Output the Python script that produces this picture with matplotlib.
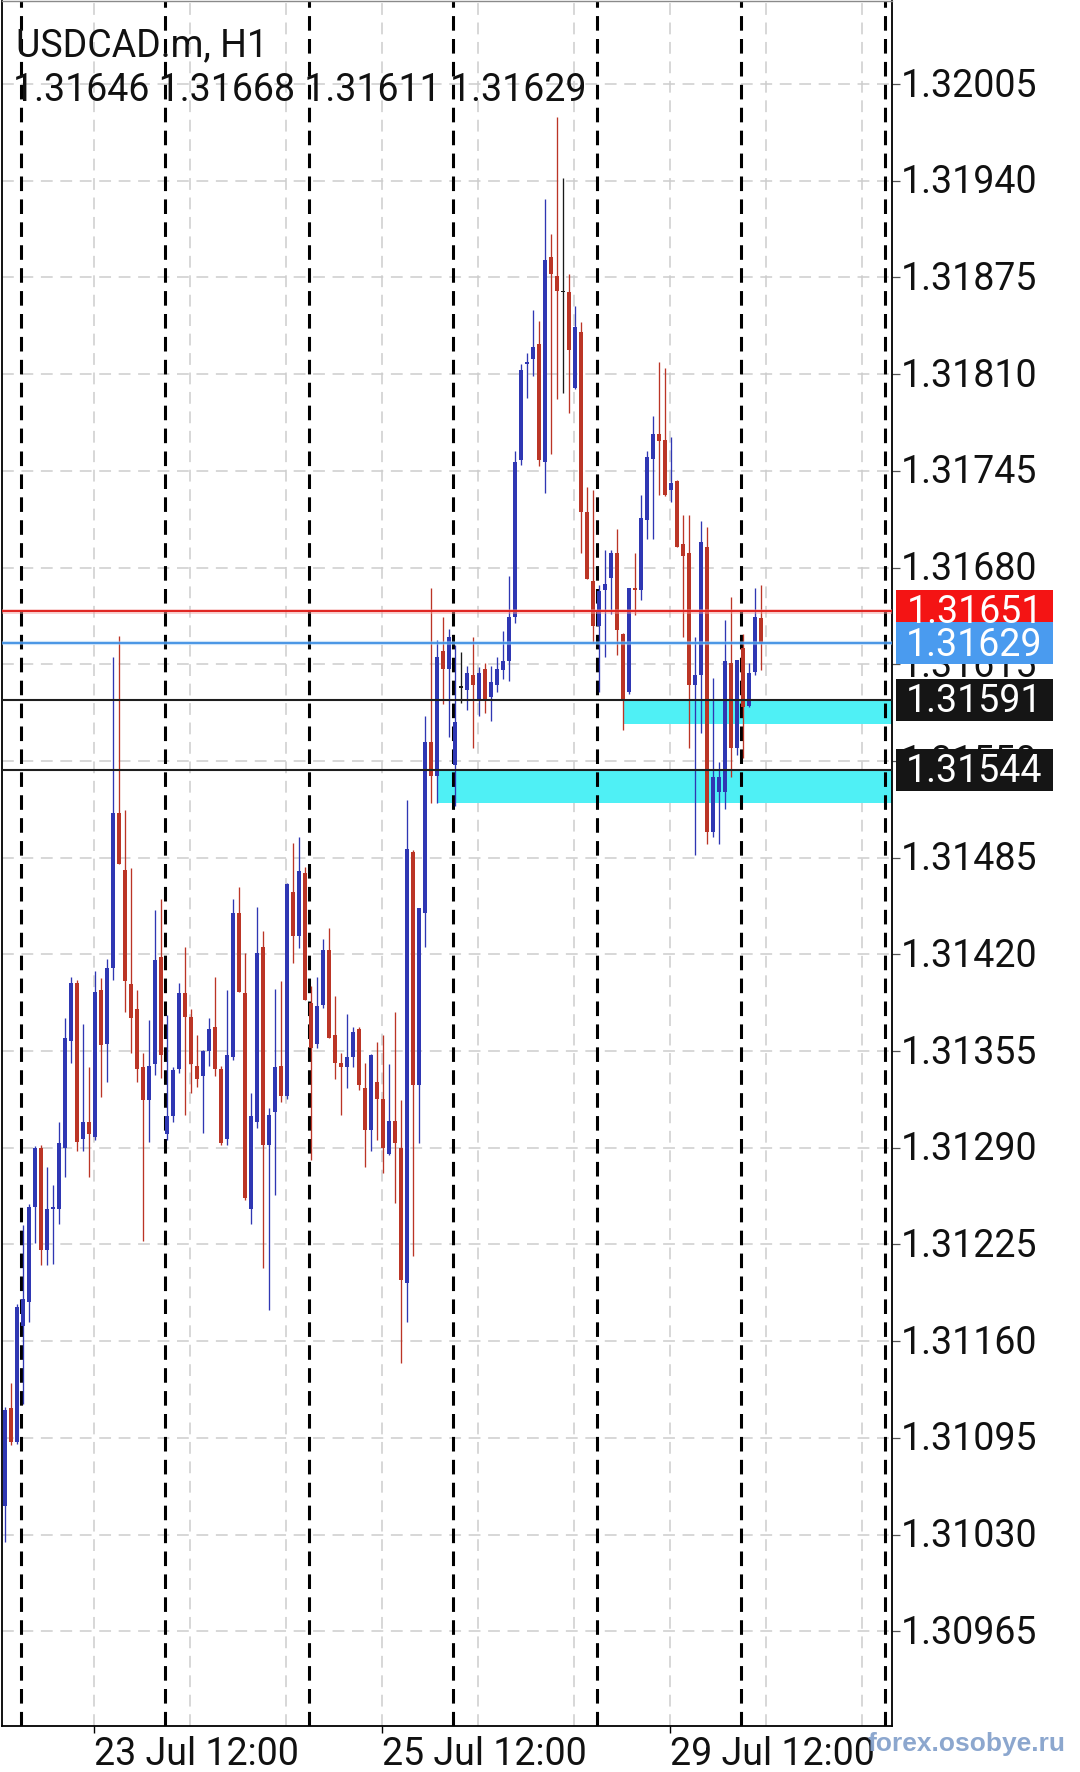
import matplotlib
matplotlib.use("Agg")
import matplotlib.pyplot as plt
from matplotlib.patches import Rectangle
from matplotlib.transforms import blended_transform_factory, ScaledTranslation

plt.rcParams['font.family'] = ['Roboto', 'DejaVu Sans']
plt.rcParams['lines.scale_dashes'] = False

W, H = 1080, 1772

# H1 bars, index 0 = 23 Jul 00:00 (first bar on screen is index -3)
first_bar = -3
opens = [
    1.31049, 1.31115, 1.31092, 1.31170, 1.31186, 1.31250, 1.31290, 1.31221, 1.31249, 1.31249,
    1.31290, 1.31362, 1.31401, 1.31296, 1.31307, 1.31297, 1.31396, 1.31360, 1.31411, 1.31515,
    1.31477, 1.31400, 1.31383, 1.31344, 1.31322, 1.31346, 1.31418, 1.31299, 1.31311, 1.31343,
    1.31394, 1.31378, 1.31345, 1.31338, 1.31355, 1.31371, 1.31343, 1.31296, 1.31351, 1.31448,
    1.31394, 1.31249, 1.31307, 1.31425, 1.31292, 1.31314, 1.31345, 1.31325, 1.31462, 1.31432,
    1.31475, 1.31387, 1.31360, 1.31386, 1.31423, 1.31366, 1.31347, 1.31344, 1.31351, 1.31370,
    1.31330, 1.31302, 1.31334, 1.31323, 1.31286, 1.31308, 1.31290, 1.31199, 1.31489, 1.31332,
    1.31448, 1.31563, 1.31540, 1.31624, 1.31612, 1.31547, 1.31599, 1.31598, 1.31608, 1.31591,
    1.31612, 1.31593, 1.31601, 1.31611, 1.31617, 1.31647, 1.31752, 1.31817, 1.31820, 1.31830,
    1.31751, 1.31889, 1.31876, 1.31865, 1.31865, 1.31801, 1.31838, 1.31717, 1.31671, 1.31641,
    1.31665, 1.31673, 1.31690, 1.31635, 1.31596, 1.31666, 1.31665, 1.31712, 1.31753, 1.31770,
    1.31766, 1.31732, 1.31738, 1.31696, 1.31690, 1.31601, 1.31608, 1.31694, 1.31502, 1.31529,
    1.31529, 1.31616, 1.31559, 1.31626, 1.31587, 1.31610, 1.31646,
]
highs = [
    1.31116, 1.31132, 1.31185, 1.31238, 1.31252, 1.31291, 1.31292, 1.31277, 1.31265, 1.31307,
    1.31377, 1.31405, 1.31403, 1.31373, 1.31344, 1.31409, 1.31404, 1.31417, 1.31620, 1.31634,
    1.31517, 1.31478, 1.31396, 1.31354, 1.31376, 1.31450, 1.31457, 1.31379, 1.31344, 1.31401,
    1.31425, 1.31383, 1.31366, 1.31356, 1.31377, 1.31405, 1.31345, 1.31396, 1.31457, 1.31465,
    1.31421, 1.31327, 1.31452, 1.31436, 1.31317, 1.31397, 1.31402, 1.31468, 1.31495, 1.31499,
    1.31479, 1.31399, 1.31405, 1.31430, 1.31438, 1.31392, 1.31354, 1.31380, 1.31371, 1.31371,
    1.31347, 1.31353, 1.31361, 1.31366, 1.31346, 1.31381, 1.31322, 1.31524, 1.31490, 1.31451,
    1.31580, 1.31666, 1.31631, 1.31647, 1.31639, 1.31628, 1.31623, 1.31614, 1.31633, 1.31613,
    1.31616, 1.31614, 1.31620, 1.31637, 1.31674, 1.31758, 1.31817, 1.31824, 1.31853, 1.31846,
    1.31928, 1.31904, 1.31983, 1.31942, 1.31877, 1.31856, 1.31845, 1.31734, 1.31732, 1.31668,
    1.31692, 1.31692, 1.31706, 1.31636, 1.31666, 1.31690, 1.31729, 1.31758, 1.31782, 1.31818,
    1.31814, 1.31768, 1.31739, 1.31715, 1.31715, 1.31633, 1.31711, 1.31707, 1.31606, 1.31549,
    1.31645, 1.31660, 1.31618, 1.31635, 1.31616, 1.31666, 1.31668,
]
lows = [
    1.31025, 1.31090, 1.31091, 1.31118, 1.31173, 1.31226, 1.31211, 1.31211, 1.31212, 1.31239,
    1.31270, 1.31347, 1.31288, 1.31288, 1.31270, 1.31295, 1.31324, 1.31334, 1.31403, 1.31481,
    1.31381, 1.31354, 1.31334, 1.31227, 1.31294, 1.31339, 1.31337, 1.31295, 1.31307, 1.31340,
    1.31312, 1.31327, 1.31331, 1.31300, 1.31345, 1.31338, 1.31292, 1.31292, 1.31349, 1.31395,
    1.31255, 1.31239, 1.31303, 1.31209, 1.31181, 1.31258, 1.31321, 1.31323, 1.31414, 1.31424,
    1.31389, 1.31282, 1.31357, 1.31384, 1.31364, 1.31336, 1.31312, 1.31330, 1.31344, 1.31329,
    1.31277, 1.31288, 1.31295, 1.31273, 1.31285, 1.31253, 1.31145, 1.31173, 1.31217, 1.31293,
    1.31425, 1.31522, 1.31522, 1.31588, 1.31566, 1.31520, 1.31589, 1.31584, 1.31559, 1.31580,
    1.31582, 1.31577, 1.31596, 1.31605, 1.31604, 1.31643, 1.31749, 1.31794, 1.31809, 1.31748,
    1.31730, 1.31756, 1.31793, 1.31797, 1.31784, 1.31800, 1.31690, 1.31672, 1.31629, 1.31596,
    1.31620, 1.31649, 1.31621, 1.31571, 1.31595, 1.31648, 1.31658, 1.31699, 1.31699, 1.31729,
    1.31728, 1.31724, 1.31694, 1.31633, 1.31559, 1.31487, 1.31569, 1.31494, 1.31499, 1.31494,
    1.31518, 1.31539, 1.31554, 1.31552, 1.31586, 1.31608, 1.31611,
]
closes = [
    1.31114, 1.31092, 1.31183, 1.31188, 1.31250, 1.31290, 1.31221, 1.31249, 1.31250, 1.31293,
    1.31364, 1.31401, 1.31294, 1.31307, 1.31299, 1.31395, 1.31359, 1.31411, 1.31515, 1.31481,
    1.31402, 1.31377, 1.31343, 1.31322, 1.31345, 1.31416, 1.31352, 1.31311, 1.31342, 1.31394,
    1.31378, 1.31346, 1.31336, 1.31355, 1.31370, 1.31343, 1.31293, 1.31352, 1.31448, 1.31395,
    1.31256, 1.31311, 1.31421, 1.31292, 1.31312, 1.31344, 1.31325, 1.31467, 1.31432, 1.31476,
    1.31389, 1.31357, 1.31385, 1.31423, 1.31364, 1.31347, 1.31344, 1.31351, 1.31368, 1.31332,
    1.31302, 1.31352, 1.31323, 1.31290, 1.31308, 1.31293, 1.31201, 1.31491, 1.31332, 1.31451,
    1.31563, 1.31540, 1.31620, 1.31612, 1.31633, 1.31576, 1.31599, 1.31609, 1.31601, 1.31609,
    1.31591, 1.31603, 1.31612, 1.31617, 1.31647, 1.31751, 1.31813, 1.31818, 1.31828, 1.31752,
    1.31887, 1.31877, 1.31866, 1.31865, 1.31826, 1.31842, 1.31717, 1.31672, 1.31641, 1.31664,
    1.31669, 1.31690, 1.31638, 1.31591, 1.31666, 1.31665, 1.31713, 1.31754, 1.31770, 1.31765,
    1.31729, 1.31737, 1.31694, 1.31688, 1.31601, 1.31608, 1.31697, 1.31502, 1.31539, 1.31539,
    1.31617, 1.31559, 1.31618, 1.31586, 1.31609, 1.31647, 1.31629,
]

price_ticks = [1.30965, 1.31030, 1.31095, 1.31160, 1.31225, 1.31290, 1.31355, 1.31420, 1.31485,
               1.31550, 1.31615, 1.31680, 1.31745, 1.31810, 1.31875, 1.31940, 1.32005]
time_ticks = [12, 60, 108]
time_labels = ["23 Jul 12:00", "25 Jul 12:00", "29 Jul 12:00"]
day_starts = [0, 24, 48, 72, 96, 120, 144]
grid_bars = [12, 28, 44, 60, 76, 92, 108, 124, 140]

ask, bid = 1.31651, 1.31629
levels = [1.31591, 1.31544]
# zones: (start bar, low, high)
zones = [(100, 1.31575, 1.31591), (69, 1.31522, 1.31544)]

BULL, BEAR, DOJI = "#2f37b3", "#bb3526", "#1a1a1a"
CYAN = "#4ff0f5"

fig = plt.figure(figsize=(W / 100, H / 100), dpi=100)
ax = fig.add_axes([2 / W, 46 / H, 890 / W, 1725 / H])
ax.set_xlim(-3.5, 144.83)
ax.set_ylim(1.309013, 1.320608)

# grid
for p in price_ticks:
    ax.axhline(p, color="#cdcdcd", lw=1.1, dashes=(8.5, 5.5), zorder=0.5)
for b in grid_bars:
    ax.axvline(b - 0.1, color="#cdcdcd", lw=1.1, dashes=(8.5, 5.5), zorder=0.5)

# zones
for x0, lo, hi in zones:
    ax.add_patch(Rectangle((x0, lo), 200, hi - lo, fc=CYAN, ec="none", zorder=1))

# day separators
for d in day_starts:
    ax.axvline(d - 0.4, color="black", lw=2.2, dashes=(10.5, 6), zorder=1.5)

# candles
bars = list(range(first_bar, first_bar + len(opens)))
for x, o, h, l, c in zip(bars, opens, highs, lows, closes):
    col = BULL if c > o else (BEAR if c < o else DOJI)
    ax.vlines(x, l, h, color=col, lw=0.95, zorder=3)
    ax.bar(x, max(abs(c - o), 0.000011), bottom=min(o, c), width=0.62,
           color=col, lw=0, zorder=3.1)

# price lines
ax.axhline(ask, color="#f39a9a", lw=3.4, alpha=0.5, zorder=4.9)
ax.axhline(ask, color="#e0231f", lw=1.4, zorder=5)
ax.axhline(bid, color="#9cc8f3", lw=3.0, alpha=0.5, zorder=4.9)
ax.axhline(bid, color="#3f8fe3", lw=1.3, zorder=5)
for lv in levels:
    ax.axhline(lv, color="#1e1e1e", lw=1.5, zorder=5)

# axes styling
for s in ("left", "bottom", "right"):
    ax.spines[s].set_color("black")
    ax.spines[s].set_linewidth(1.3)
ax.spines["top"].set_color("#8a8a8a")
ax.spines["top"].set_linewidth(1.0)

up = ScaledTranslation(0, 2 / 100, fig.dpi_scale_trans)  # nudge labels 2 px up

ax.yaxis.tick_right()
ax.set_yticks(price_ticks)
ax.set_yticklabels([f"{p:.5f}" for p in price_ticks])
ax.tick_params(axis="y", length=5.5, width=0.9, color="#555555", pad=0.8,
               labelsize=27, labelcolor="#111111")
for lab in ax.get_yticklabels():
    lab.set_transform(lab.get_transform() + up)
ax.set_xticks([t - 0.1 for t in time_ticks])
ax.set_xticklabels(time_labels, ha="left")
ax.tick_params(axis="x", length=5, width=1.0, color="black", pad=2.5,
               labelsize=27, labelcolor="#111111")

# price tags on the scale
tr = blended_transform_factory(fig.transFigure, ax.transData)
tag_h = 42 * (1.320608 - 1.309013) / 1725

def tag(p, fc):
    ax.add_patch(Rectangle((896 / W, p - tag_h / 2), 157 / W, tag_h, transform=tr,
                           fc=fc, ec="none", clip_on=False, zorder=10))
    ax.text(974.5 / W, p, f"{p:.5f}", transform=tr + up, ha="center", va="center_baseline",
            color="white", fontsize=27, zorder=11, clip_on=False)

tag(ask, "#f41414")
tag(bid, "#4a9bef")
for lv in levels:
    tag(lv, "#151515")

# header
fig.text(16 / W, 1 - 56 / H, "USDCAD.m, H1", fontsize=27, color="#111111", va="baseline")
fig.text(13 / W, 1 - 101 / H, f"{opens[-1]:.5f} {highs[-1]:.5f} {lows[-1]:.5f} {closes[-1]:.5f}",
         fontsize=27, color="#111111", va="baseline")

# watermark
fig.text(868 / W, 1 - 1744 / H, "forex.osobye.ru", fontsize=19, fontweight="bold",
         family=["Liberation Sans", "DejaVu Sans"], color="#86a2cc", va="center", alpha=0.95)

fig.savefig("out.png", dpi=100)
